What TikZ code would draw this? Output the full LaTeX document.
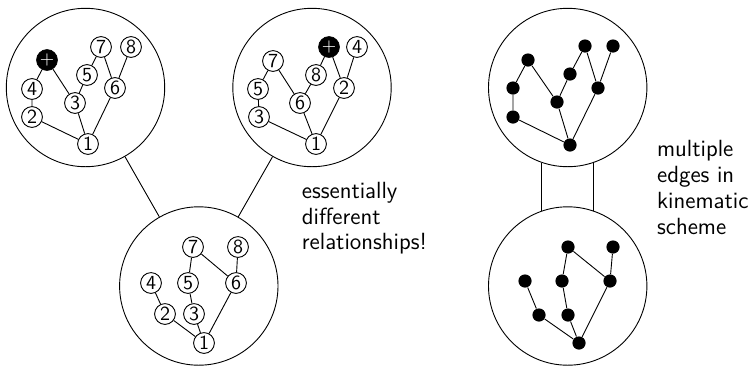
\documentclass[tikz,border=0pt]{standalone}
\begin{document}
\begin{tikzpicture}[x=0.5pt,y=-0.5pt,
  big/.style={circle,draw,line width=0.45pt,inner sep=0pt,minimum size=79.2pt},
  num/.style={circle,draw,line width=0.45pt,inner sep=0pt,minimum size=10.4pt,font=\fontsize{10}{12}\selectfont\sffamily},
  plus/.style={circle,draw,fill=black,text=white,inner sep=0pt,minimum size=10.4pt,font=\fontsize{9}{11}\selectfont\sffamily},
  dot/.style={circle,fill=black,inner sep=0pt,minimum size=6.6pt},
  edge/.style={line width=0.45pt},
  note/.style={anchor=base west,align=left,inner sep=0pt,font=\fontsize{11.7}{12.9}\selectfont\sffamily}]
\useasboundingbox (0,0) rectangle (754,365);
% big circles
\node[big] (C1) at (85.5,87.5) {};
\node[big] (C2) at (312,87.5) {};
\node[big] (C3) at (198.8,286) {};
\node[big] (R1) at (567.7,87.5) {};
\node[big] (R2) at (567.7,286) {};
\draw[edge] (C1) -- (C3);
\draw[edge] (C2) -- (C3);
\draw[edge] (R1.251) -- (R2.109);
\draw[edge] (R1.289) -- (R2.71);
% tree 1
\node[plus] (aP) at (47,60) {+};
\node[num] (a4) at (32,89) {4};
\node[num] (a2) at (32,117) {2};
\node[num] (a3) at (75,103) {3};
\node[num] (a5) at (87,75) {5};
\node[num] (a7) at (101,47) {7};
\node[num] (a8) at (131,47) {8};
\node[num] (a6) at (115,88) {6};
\node[num] (a1) at (88,144) {1};
\draw[edge] (aP)--(a4) (aP)--(a3) (a4)--(a2) (a2)--(a1) (a3)--(a1) (a3)--(a5) (a5)--(a7) (a7)--(a6) (a8)--(a6) (a6)--(a1);
% tree 2
\node[plus] (bP) at (329,47) {+};
\node[num] (b4) at (357,47) {4};
\node[num] (b7) at (273,61) {7};
\node[num] (b8) at (316,75) {8};
\node[num] (b2) at (344,88) {2};
\node[num] (b5) at (258,89) {5};
\node[num] (b6) at (300,103) {6};
\node[num] (b3) at (259,117) {3};
\node[num] (b1) at (316,144) {1};
\draw[edge] (bP)--(b8) (bP)--(b2) (b4)--(b2) (b2)--(b1) (b8)--(b6) (b7)--(b6) (b7)--(b5) (b5)--(b3) (b3)--(b1) (b6)--(b1);
% tree 3
\node[num] (c7) at (193,247) {7};
\node[num] (c8) at (238,247) {8};
\node[num] (c4) at (151,283) {4};
\node[num] (c5) at (188,283) {5};
\node[num] (c6) at (236,283) {6};
\node[num] (c2) at (165,314) {2};
\node[num] (c3) at (194,314) {3};
\node[num] (c1) at (204,343) {1};
\draw[edge] (c7)--(c5) (c7)--(c6) (c8)--(c6) (c4)--(c2) (c5)--(c3) (c2)--(c1) (c3)--(c1) (c6)--(c1);
% right top
\node[dot] (dP) at (528,60) {};
\node[dot] (d4) at (513,88) {};
\node[dot] (d2) at (513,117) {};
\node[dot] (d3) at (557,102) {};
\node[dot] (d5) at (570,74) {};
\node[dot] (d7) at (585,46) {};
\node[dot] (d8) at (613,46) {};
\node[dot] (d6) at (598,88) {};
\node[dot] (d1) at (570,145) {};
\draw[edge] (dP)--(d4) (dP)--(d3) (d4)--(d2) (d2)--(d1) (d3)--(d1) (d3)--(d5) (d5)--(d7) (d7)--(d6) (d8)--(d6) (d6)--(d1);
% right bottom
\node[dot] (e7) at (568,247) {};
\node[dot] (e8) at (613,247) {};
\node[dot] (e4) at (525,281) {};
\node[dot] (e5) at (562,281) {};
\node[dot] (e6) at (610,281) {};
\node[dot] (e2) at (539,315) {};
\node[dot] (e3) at (568,315) {};
\node[dot] (e1) at (579,343) {};
\draw[edge] (e7)--(e5) (e7)--(e6) (e8)--(e6) (e4)--(e2) (e5)--(e3) (e2)--(e1) (e3)--(e1) (e6)--(e1);
% notes
\node[note] (t1) at (301.5,249.9) {essentially\\different\\relationships!};
\node[note] (t2) at (656.7,234.1) {multiple\\edges in\\kinematic\\scheme};
\end{tikzpicture}
\end{document}
